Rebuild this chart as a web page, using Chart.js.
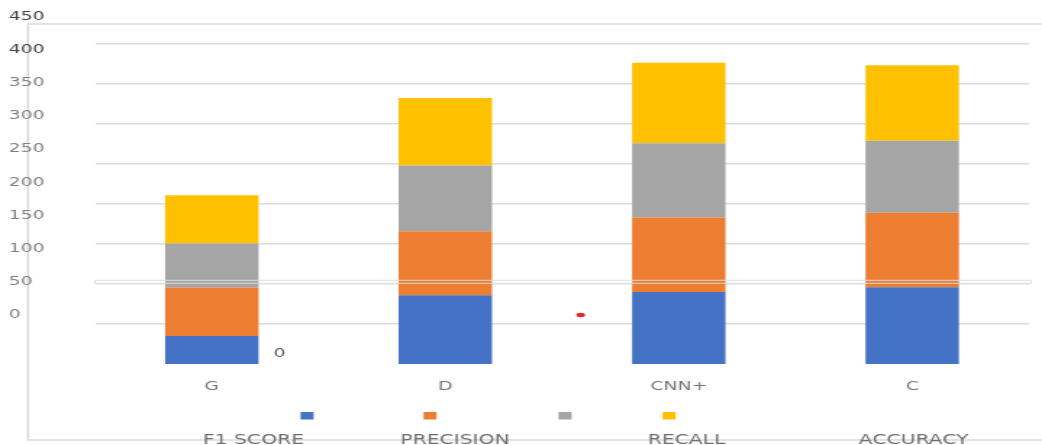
<!DOCTYPE html>
<html>
<head>
<meta charset="utf-8">
<script src="https://cdn.jsdelivr.net/npm/chart.js@4.4.1/dist/chart.umd.min.js"></script>
<style>
  html, body { margin: 0; padding: 0; background: #fff; }
  #chart { display: block; }
</style>
</head>
<body>
<!-- the original picture is stretched sideways, so the canvas is drawn narrow and widened -->
<canvas id="chart" width="719" height="445" style="width:1042px;height:445px"></canvas>
<script>
const categories = ['G', 'D', 'CNN+', 'C'];
const f1Score = [35, 86, 90, 96];
const precision = [60.5, 80, 93, 93];
const recall = [55, 82, 93, 90];
const accuracy = [60.5, 84.5, 100.5, 94.5];
const yTickLabels = [0, 50, 100, 150, 200, 250, 300, 350, 400, 450];
const yGridValues = [50, 100, 150, 200, 250, 300, 350, 400];

const seriesNames = ['F1 SCORE', 'PRECISION', 'RECALL', 'ACCURACY'];
const seriesColors = ['#4472C4', '#ED7D31', '#A5A5A5', '#FFC000'];

const FONT = 'DejaVu Sans';

// extra bits of the original: frame, stray marks and a split legend
const chartExtras = {
  id: 'chartExtras',
  beforeDraw(chart) {
    const { ctx, width, height } = chart;
    ctx.save();
    ctx.fillStyle = '#ffffff';
    ctx.fillRect(0, 0, width, height);
    ctx.strokeStyle = '#d9d9d9';
    ctx.lineWidth = 1.4;
    ctx.beginPath();
    ctx.moveTo(width, 24);
    ctx.lineTo(19.3, 24);
    ctx.lineTo(19.3, 440);
    ctx.lineTo(width, 440);
    ctx.stroke();
    ctx.restore();
  },
  afterDatasetsDraw(chart) {
    const { ctx, chartArea } = chart;
    const x = chart.scales.x;
    const y2 = chart.scales.y2;
    ctx.save();
    // thin double line across the plot
    const yb = y2.getPixelForValue(50);
    ctx.strokeStyle = 'rgba(222,222,222,0.95)';
    ctx.lineWidth = 1;
    ctx.strokeRect(chartArea.left, yb - 1.5, chartArea.right - chartArea.left + 1.5, 3);
    // red dot
    ctx.fillStyle = '#e8262b';
    ctx.beginPath();
    ctx.ellipse(x.getPixelForValue(1.58), y2.getPixelForValue(0), 3, 2.2, 0, 0, Math.PI * 2);
    ctx.fill();
    // stray zero
    ctx.fillStyle = '#595959';
    ctx.font = '13px "' + FONT + '"';
    ctx.textAlign = 'center';
    ctx.textBaseline = 'middle';
    ctx.fillText('0', x.getPixelForValue(0.29), y2.getPixelForValue(-58));
    ctx.restore();
  },
  afterDraw(chart) {
    const { ctx } = chart;
    const squareX = [211.9, 296.7, 389.9, 461.7];
    const labelX = [174.9, 314, 473.7, 630.4];
    ctx.save();
    chart.data.datasets.forEach((ds, i) => {
      ctx.fillStyle = ds.backgroundColor;
      ctx.fillRect(squareX[i] - 4.5, 412, 9, 7.5);
      ctx.fillStyle = '#6f6f6f';
      ctx.font = '14px "' + FONT + '"';
      ctx.textAlign = 'center';
      ctx.textBaseline = 'middle';
      ctx.fillText(ds.label, labelX[i], 440);
    });
    ctx.restore();
  }
};

const ctx = document.getElementById('chart').getContext('2d');
new Chart(ctx, {
  type: 'bar',
  data: {
    labels: categories,
    datasets: [f1Score, precision, recall, accuracy].map((values, i) => ({
      label: seriesNames[i],
      data: values,
      backgroundColor: seriesColors[i],
      borderWidth: 0,
      barPercentage: 0.4,
      categoryPercentage: 1
    }))
  },
  options: {
    responsive: false,
    animation: false,
    devicePixelRatio: 1,
    layout: { padding: { left: 6, right: 9, top: 16, bottom: 0 } },
    scales: {
      x: {
        stacked: true,
        grid: { display: false, drawTicks: false },
        border: { display: false },
        ticks: { color: '#767676', font: { family: FONT, size: 13 }, padding: 15 },
        afterFit: scale => { scale.height = 81; }
      },
      y: {
        stacked: true,
        min: 0,
        max: 435,
        position: 'left',
        grid: { color: '#dcdcdc', lineWidth: 1.5, drawTicks: false },
        border: { display: false },
        ticks: { display: false },
        afterBuildTicks: axis => { axis.ticks = yGridValues.map(v => ({ value: v })); },
        afterFit: scale => { scale.width = 0; }
      },
      y2: {
        position: 'left',
        min: -73.8,
        max: 450.3,
        grid: { display: false, drawTicks: false },
        border: { display: false },
        ticks: {
          crossAlign: 'far',
          autoSkip: false,
          font: { family: FONT, size: 13 },
          color: c => c.tick && c.tick.value >= 400 ? '#404040' : '#808080'
        },
        afterBuildTicks: axis => { axis.ticks = yTickLabels.map(v => ({ value: v })); },
        afterFit: scale => { scale.width = 59.6; }
      }
    },
    plugins: {
      legend: { display: false },
      tooltip: { enabled: false }
    }
  },
  plugins: [chartExtras]
});
</script>
</body>
</html>
